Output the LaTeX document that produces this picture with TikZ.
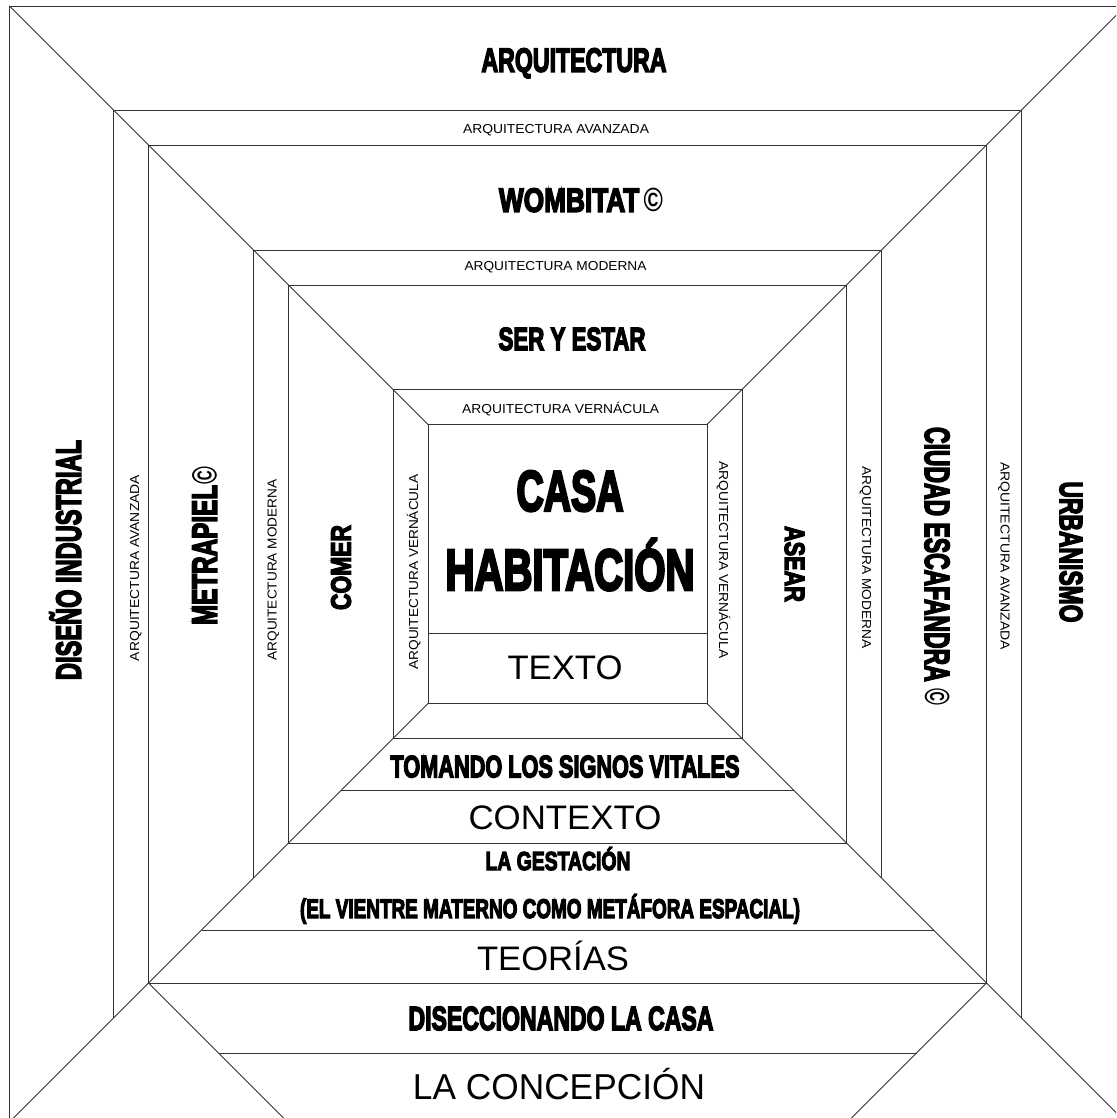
\documentclass[tikz,border=0pt]{standalone}
\usepackage{fontspec}
\usepackage{graphicx}
\setmainfont{Liberation Sans}
\newfontfamily\heavyfont[FakeBold=5]{Liberation Sans Bold}
\newfontfamily\copyfont{Liberation Sans Bold}
\newcommand\cpr{{\copyfont ©}}
\newcommand\hb[3]{\resizebox{#2pt}{\height}{\fontsize{#1pt}{#1pt}\selectfont\heavyfont #3}}
\newcommand\rg[3]{\resizebox{#2pt}{\height}{\fontsize{#1pt}{#1pt}\selectfont #3}}
\begin{document}
\begin{tikzpicture}[x=1pt,y=-1pt,
  ln/.style={draw=black!80,line width=0.9pt},
  lbl/.style={inner sep=0pt,anchor=base},
  up/.style={lbl,rotate=90},
  down/.style={lbl,rotate=-90}]
\useasboundingbox (0,0) rectangle (1116,1118);
\clip (0,0) rectangle (1116,1118);
% square corners
\coordinate (s1tl) at (9.5,6);     \coordinate (s1tr) at (1125.5,6);
\coordinate (s1bl) at (9.5,1122);  \coordinate (s1br) at (1125.5,1122);
\coordinate (s2tl) at (113.5,110); \coordinate (s2tr) at (1021.5,110);
\coordinate (s2bl) at (113.5,1018);\coordinate (s2br) at (1021.5,1018);
\coordinate (s3tl) at (148.5,145); \coordinate (s3tr) at (986.5,145);
\coordinate (s3bl) at (148.5,983); \coordinate (s3br) at (986.5,983);
\coordinate (s4tl) at (253.5,250); \coordinate (s4tr) at (881.5,250);
\coordinate (s4bl) at (253.5,878); \coordinate (s4br) at (881.5,878);
\coordinate (s5tl) at (288.5,285); \coordinate (s5tr) at (846.5,285);
\coordinate (s5bl) at (288.5,843); \coordinate (s5br) at (846.5,843);
\coordinate (s6tl) at (393,389.5); \coordinate (s6tr) at (742,389.5);
\coordinate (s6bl) at (393,738.5); \coordinate (s6br) at (742,738.5);
\coordinate (s7tl) at (428,424.5); \coordinate (s7tr) at (707,424.5);
\coordinate (s7bl) at (428,703.5); \coordinate (s7br) at (707,703.5);
% extra band lines
\coordinate (t1) at (428,633.3);   \coordinate (t2) at (707,633.3);
\coordinate (v1) at (340.8,790.7); \coordinate (v2) at (794.2,790.7);
\coordinate (g1) at (201.5,930);   \coordinate (g2) at (933.5,930);
\coordinate (d1) at (218.5,1053);  \coordinate (d2) at (916.5,1053);
\coordinate (e1) at (287.5,1122);  \coordinate (e2) at (847.5,1122);
% squares
\draw[ln] (s1bl) -- (s1tl) -- (s1tr) -- (s1br) -- cycle;
\draw[ln] (s2bl) -- (s2tl) -- (s2tr) -- (s2br);
\draw[ln] (s3bl) -- (s3tl) -- (s3tr) -- (s3br) -- cycle;
\draw[ln] (s4bl) -- (s4tl) -- (s4tr) -- (s4br);
\draw[ln] (s5bl) -- (s5tl) -- (s5tr) -- (s5br) -- cycle;
\draw[ln] (s6bl) -- (s6tl) -- (s6tr) -- (s6br) -- cycle;
\draw[ln] (s7bl) -- (s7tl) -- (s7tr) -- (s7br) -- cycle;
% diagonals
\draw[ln] (s1tl) -- (s7tl);
\draw[ln] (s1tr) -- (s7tr);
\draw[ln] (s1bl) -- (s7bl);
\draw[ln] (s1br) -- (s7br);
% extra lines
\draw[ln] (t1) -- (t2);
\draw[ln] (v1) -- (v2);
\draw[ln] (g1) -- (g2);
\draw[ln] (d1) -- (d2);
\draw[ln] (s3bl) -- (e1);
\draw[ln] (s3br) -- (e2);
% horizontal texts
\node[lbl] (arq) at (574,71.7) {\hb{33.5}{185}{ARQUITECTURA}};
\node[lbl] (avt) at (556,133.3) {\rg{13}{186}{ARQUITECTURA AVANZADA}};
\node[lbl] (wom) at (581,211.7) {\hb{33.5}{164}{WOMBITAT\,\cpr}};
\node[lbl] (mot) at (555.5,270.7) {\rg{13}{182}{ARQUITECTURA MODERNA}};
\node[lbl] (ser) at (572,350) {\hb{32}{147}{SER Y ESTAR}};
\node[lbl] (vet) at (560.7,413.3) {\rg{13}{197}{ARQUITECTURA VERNÁCULA}};
\node[lbl] (casa) at (570,510.7) {\hb{57}{107}{CASA}};
\node[lbl] (hab) at (570,590) {\hb{58}{249}{HABITACIÓN}};
\node[lbl] (tex) at (565,679.3) {\rg{34}{115}{TEXTO}};
\node[lbl] (tom) at (565,777.3) {\hb{31}{349}{TOMANDO LOS SIGNOS VITALES}};
\node[lbl] (con) at (565,829) {\rg{34}{193}{CONTEXTO}};
\node[lbl] (ges) at (558,870) {\hb{26}{145}{LA GESTACIÓN}};
\node[lbl] (vie) at (550,918) {\hb{27}{500}{(EL VIENTRE MATERNO COMO METÁFORA ESPACIAL)}};
\node[lbl] (teo) at (553,970) {\rg{34}{152}{TEORÍAS}};
\node[lbl] (dis) at (561,1030) {\hb{33.5}{305}{DISECCIONANDO LA CASA}};
\node[lbl] (lac) at (559,1099) {\rg{36}{292}{LA CONCEPCIÓN}};
% left texts
\node[up] (din) at (80.7,560) {\hb{35}{240}{DISEÑO INDUSTRIAL}};
\node[up] (avl) at (139,568) {\rg{13}{186}{ARQUITECTURA AVANZADA}};
\node[up] (met) at (216.7,546) {\hb{35}{158}{METRAPIEL\cpr}};
\node[up] (mol) at (276.7,570) {\rg{13}{181}{ARQUITECTURA MODERNA}};
\node[up] (com) at (350.7,567.5) {\hb{28}{85}{COMER}};
\node[up] (vel) at (418,572) {\rg{13}{195}{ARQUITECTURA VERNÁCULA}};
% right texts
\node[down] (ver) at (719,560) {\rg{13}{197}{ARQUITECTURA VERNÁCULA}};
\node[down] (ase) at (785,564) {\hb{28}{76}{ASEAR}};
\node[down] (mor) at (862,557.5) {\rg{13}{182}{ARQUITECTURA MODERNA}};
\node[down] (ciu) at (925,566) {\hb{35}{278}{CIUDAD ESCAFANDRA \cpr}};
\node[down] (avr) at (1000.7,556) {\rg{13}{188}{ARQUITECTURA AVANZADA}};
\node[down] (urb) at (1060,552) {\hb{32}{141}{URBANISMO}};
\end{tikzpicture}
\end{document}
